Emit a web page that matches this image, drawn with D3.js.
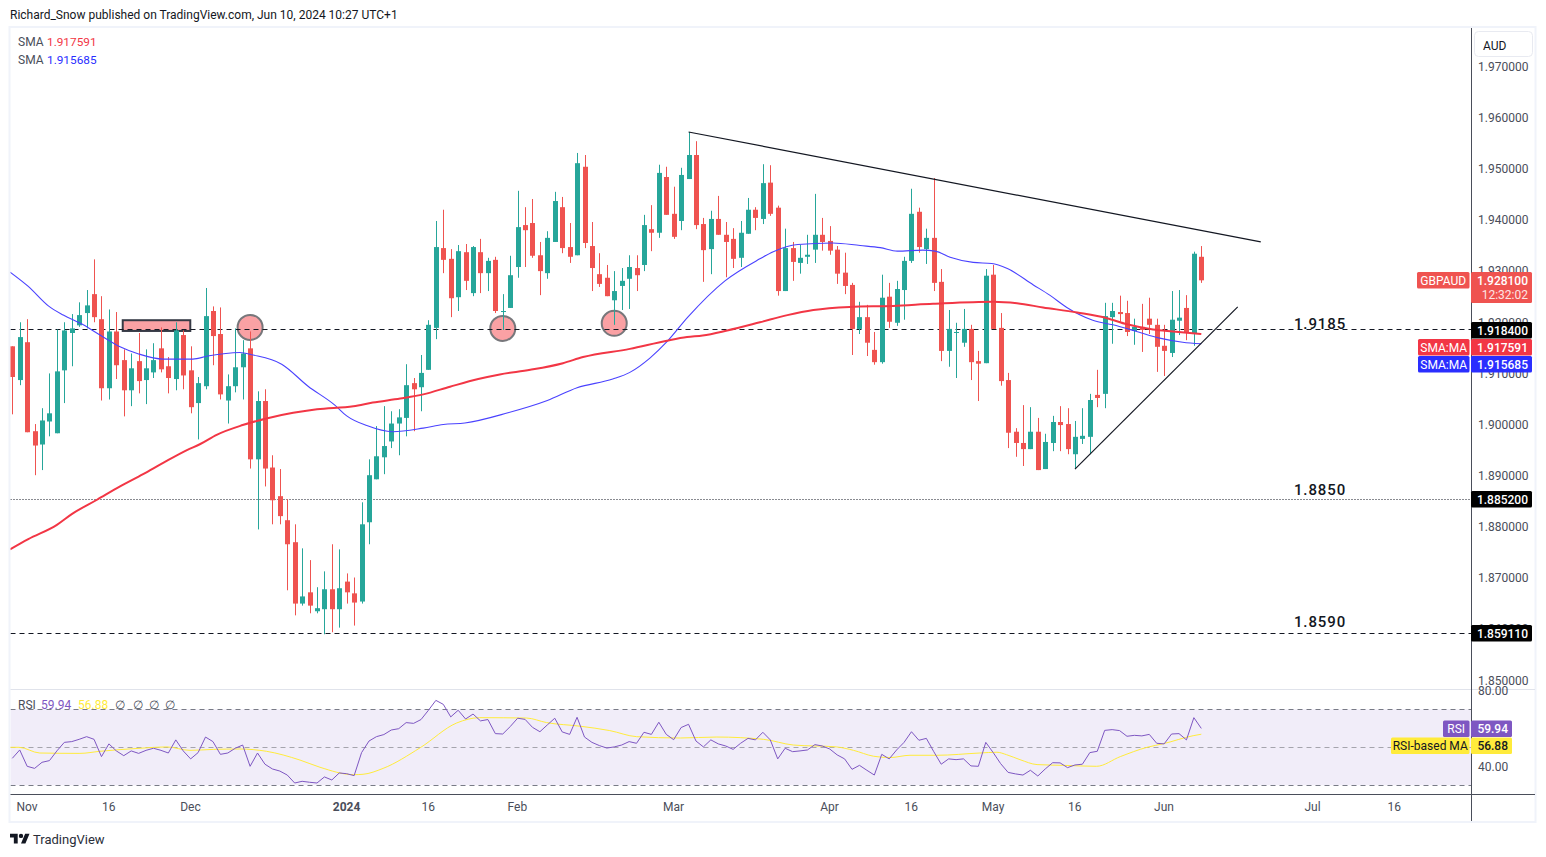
<!DOCTYPE html>
<html>
<head>
<meta charset="utf-8">
<script src="https://cdn.jsdelivr.net/npm/d3@7"></script>
<style>
  html, body { margin: 0; padding: 0; background: #fff; overflow: hidden; }
  text { font-family: Roboto, "Noto Sans", sans-serif; }
  .axis path, .axis line { display: none; }
  .axis text { font-size: 12px; fill: #4a4e5a; font-family: Roboto, "Noto Sans", sans-serif; }
</style>
</head>
<body>
<svg id="chart" width="1546" height="857"></svg>
<script>
// daily GBPAUD candles (index 0 = 30 Oct 2023)
var opens = [1.9152,1.9086,1.9160,1.8986,1.8960,1.9005,1.8982,1.9105,1.9178,1.9193,1.9217,1.9254,1.9205,1.9070,1.9181,1.9125,1.9066,1.9123,1.9086,1.9101,1.9148,1.9113,1.9088,1.9174,1.9105,1.9041,1.9074,1.9221,1.9176,1.9046,1.9074,1.9111,1.9148,1.8931,1.9045,1.8915,1.8859,1.8812,1.8769,1.8649,1.8671,1.8634,1.8638,1.8677,1.8638,1.8692,1.8669,1.8653,1.8808,1.8892,1.8935,1.8966,1.9001,
  1.9012,1.9080,1.9072,1.9106,1.9188,1.9344,1.9323,1.9248,1.9336,1.9256,1.9336,1.9295,1.9321,1.9219,1.9227,1.9307,1.9389,1.9393,1.9330,1.9295,1.9356,1.9424,1.9346,1.9330,1.9503,1.9348,1.9293,1.9286,1.9242,1.9270,1.9284,1.9305,1.9311,1.9381,1.9374,1.9483,1.9411,1.9397,1.9479,1.9526,1.9391,1.9342,1.9401,1.9370,1.9362,1.9325,1.9372,1.9419,1.9401,
  1.9472,1.9423,1.9260,1.9344,1.9315,1.9327,1.9341,1.9370,1.9358,1.9341,1.9296,1.9272,1.9186,1.9209,1.9145,1.9121,1.9249,1.9198,1.9262,1.9319,1.9415,1.9342,1.9364,1.9278,1.9143,1.9178,1.9159,1.9186,1.9123,1.9119,1.9292,1.9188,1.9086,1.8985,1.8963,1.8951,1.8985,1.8912,1.8963,1.9004,1.9000,1.8941,1.8971,1.8975,1.9057,1.9059,1.9209,1.9219,1.9217,1.9182,1.9190,1.9206,1.9194,1.9153,1.9139,1.9202,1.9227,1.9176,1.9327];
var highs = [1.9152,1.9199,1.9205,1.9000,1.9031,1.9099,1.9185,1.9199,1.9215,1.9238,1.9262,1.9322,1.9250,1.9224,1.9219,1.9146,1.9138,1.9178,1.9146,1.9158,1.9189,1.9131,1.9199,1.9183,1.9152,1.9092,1.9266,1.9230,1.9228,1.9097,1.9187,1.9164,1.9181,1.9064,1.9068,1.8939,1.8912,1.8853,1.8804,1.8757,1.8734,1.8681,1.8712,1.8765,1.8755,1.8708,1.8700,1.8847,1.8931,1.8996,1.9035,1.9025,1.9029,
  1.9117,1.9090,1.9135,1.9203,1.9397,1.9419,1.9342,1.9350,1.9352,1.9348,1.9362,1.9325,1.9327,1.9254,1.9329,1.9456,1.9424,1.9440,1.9356,1.9377,1.9454,1.9444,1.9393,1.9530,1.9526,1.9395,1.9334,1.9311,1.9299,1.9305,1.9330,1.9330,1.9409,1.9428,1.9507,1.9503,1.9464,1.9501,1.9571,1.9553,1.9403,1.9417,1.9446,1.9395,1.9383,1.9397,1.9442,1.9424,1.9508,
  1.9506,1.9427,1.9382,1.9356,1.9350,1.9370,1.9450,1.9403,1.9387,1.9348,1.9335,1.9276,1.9239,1.9233,1.9180,1.9292,1.9276,1.9280,1.9327,1.9460,1.9423,1.9382,1.9481,1.9303,1.9223,1.9198,1.9225,1.9194,1.9143,1.9303,1.9311,1.9217,1.9100,1.8992,1.9037,1.9033,1.9012,1.8981,1.9016,1.9035,1.9031,1.9006,1.9031,1.9059,1.9106,1.9237,1.9237,1.9251,1.9241,1.9206,1.9235,1.9247,1.9206,1.9194,1.9260,1.9262,1.9252,1.9337,1.9348];
var lows = [1.9019,1.9076,1.8984,1.8900,1.8910,1.8976,1.8982,1.9041,1.9113,1.9190,1.9187,1.9199,1.9046,1.9048,1.9088,1.9015,1.9035,1.9060,1.9039,1.9090,1.9101,1.9060,1.9066,1.9068,1.9021,1.8970,1.9068,1.9115,1.9048,1.9001,1.9062,1.9048,1.8913,1.8794,1.8878,1.8804,1.8804,1.8675,1.8626,1.8645,1.8630,1.8630,1.8589,1.8593,1.8602,1.8649,1.8606,1.8649,1.8765,1.8892,1.8902,1.8953,1.8939,
  1.8976,1.8986,1.9025,1.9106,1.9166,1.9295,1.9209,1.9221,1.9262,1.9250,1.9256,1.9260,1.9217,1.9184,1.9227,1.9286,1.9307,1.9325,1.9252,1.9284,1.9356,1.9334,1.9315,1.9330,1.9344,1.9260,1.9268,1.9250,1.9194,1.9223,1.9225,1.9260,1.9299,1.9338,1.9364,1.9409,1.9362,1.9379,1.9479,1.9381,1.9278,1.9293,1.9370,1.9287,1.9305,1.9307,1.9372,1.9379,1.9391,
  1.9407,1.9251,1.9260,1.9280,1.9294,1.9313,1.9315,1.9339,1.9331,1.9274,1.9254,1.9135,1.9176,1.9133,1.9116,1.9118,1.9188,1.9192,1.9204,1.9315,1.9335,1.9313,1.9260,1.9123,1.9112,1.9090,1.9151,1.9086,1.9045,1.9119,1.9186,1.9075,1.8953,1.8936,1.8918,1.8951,1.8910,1.8912,1.8947,1.8947,1.8941,1.8912,1.8961,1.8941,1.9033,1.9031,1.9157,1.9200,1.9172,1.9155,1.9141,1.9176,1.9102,1.9094,1.9131,1.9174,1.9164,1.9153,1.9276];
var closes = [1.9092,1.9170,1.8984,1.8958,1.9007,1.9021,1.9103,1.9183,1.9187,1.9213,1.9232,1.9209,1.9070,1.9181,1.9115,1.9066,1.9109,1.9084,1.9109,1.9125,1.9107,1.9090,1.9183,1.9095,1.9033,1.9080,1.9211,1.9172,1.9058,1.9074,1.9111,1.9138,1.8931,1.9045,1.8913,1.8851,1.8820,1.8765,1.8649,1.8663,1.8645,1.8640,1.8677,1.8638,1.8679,1.8671,1.8651,1.8804,1.8900,1.8937,1.8957,1.9001,1.9013,
  1.9076,1.9068,1.9100,1.9194,1.9346,1.9321,1.9246,1.9338,1.9280,1.9346,1.9295,1.9319,1.9221,1.9221,1.9291,1.9385,1.9379,1.9329,1.9299,1.9364,1.9436,1.9344,1.9327,1.9510,1.9354,1.9305,1.9274,1.9250,1.9260,1.9280,1.9307,1.9291,1.9389,1.9374,1.9491,1.9409,1.9366,1.9487,1.9526,1.9389,1.9340,1.9401,1.9370,1.9356,1.9323,1.9374,1.9419,1.9403,1.9471,
  1.9411,1.9260,1.9344,1.9317,1.9325,1.9331,1.9370,1.9356,1.9339,1.9294,1.9270,1.9186,1.9209,1.9159,1.9121,1.9247,1.9200,1.9264,1.9319,1.9411,1.9346,1.9364,1.9276,1.9143,1.9186,1.9180,1.9186,1.9121,1.9118,1.9290,1.9186,1.9084,1.8983,1.8963,1.8951,1.8985,1.8910,1.8965,1.9004,1.8998,1.8951,1.8975,1.8977,1.9047,1.9051,1.9211,1.9221,1.9215,1.9180,1.9190,1.9184,1.9194,1.9151,1.9143,1.9204,1.9208,1.9178,1.9333,1.9281];

// moving averages: [candle index, value] read where the curve is easy to read
var sma50 = [[-0.3,1.9297],[2.15,1.9269],[4.85,1.9231],[6.86,1.9213],[9.55,1.9194],[11.8,1.9174],[14.5,1.9151],[17,1.9137],[20.3,1.9127],[24.3,1.9127],[26.3,1.9133],[30.6,1.9140],[32.4,1.9135],[36.25,1.9117],[39.8,1.9074],[43.4,1.9037],[45,1.9016],[47.7,1.8997],[51.2,1.8985],[55.3,1.8992],[58,1.8999],[60.9,1.9002],[66.7,1.9022],[72,1.9046],[76,1.9071],[80.8,1.9088],[83.1,1.9101],[85.8,1.9129],[88.1,1.9161],[90.9,1.9209],[95.9,1.9280],[100.6,1.9323],[102.4,1.9337],[105.7,1.9351],[110.4,1.9354],[114.1,1.9349],[116.8,1.9345],[119.1,1.9338],[122.5,1.9340],[124.2,1.9338],[126.2,1.9326],[129.3,1.9316],[131.8,1.9314],[133.9,1.9304],[137.4,1.9272],[139.6,1.9252],[141.9,1.9228],[145.4,1.9203],[148.1,1.9194],[151.3,1.9181],[154.4,1.9168],[157.5,1.9160],[160,1.9157]];
var sma200 = [[-0.3,1.8755],[2.15,1.8775],[6,1.8803],[8,1.8824],[11.4,1.8852],[14.5,1.8878],[17.6,1.8902],[20.3,1.8924],[23.5,1.8949],[25.3,1.8961],[27.5,1.8979],[31,1.8998],[34.2,1.9011],[37.8,1.9022],[41,1.9029],[45.9,1.9035],[48.5,1.9042],[52.2,1.9050],[55.3,1.9058],[58.9,1.9073],[62.7,1.9088],[65.6,1.9097],[69.7,1.9106],[74.1,1.9119],[76.8,1.9131],[83.1,1.9147],[88.1,1.9163],[90.8,1.9170],[92.9,1.9173],[96.2,1.9183],[100.6,1.9199],[104.3,1.9213],[107.8,1.9223],[112.7,1.9229],[118.5,1.9231],[123.9,1.9235],[132,1.9239],[135.2,1.9236],[138.7,1.9228],[143.3,1.9218],[147.3,1.9207],[150,1.9195],[153.5,1.9185],[156.2,1.9181],[160,1.9176]];

// RSI, one value per candle
var rsiValues = [44.2,48.6,40,38.9,42.1,43,48.1,52.6,53,54.2,55.6,54.2,45.1,51.8,48.1,45.6,48.1,46.8,48.4,49.5,48.4,47,53.9,48.1,43.9,47.2,55.4,53,46.3,47,49.5,51.2,40,47,41.1,38.6,37.5,35.4,31.2,32.1,31.6,31.2,34.4,32.8,36.5,36.1,35.1,47.2,53.3,55.6,56.7,59.1,59.8,63,62.6,64.6,69.5,74.7,72.6,66,69.5,64.9,67.5,63.9,64.6,57.2,57,60.9,65.3,
  64.7,60.5,58.2,61.8,65.3,58.1,56.8,65.8,55.4,52.6,50.9,49.6,50.2,51.2,53,52.1,57.9,56.8,63.2,56.8,54,60.4,62.1,53.3,50.2,53.9,51.8,50.7,48.9,52.1,54.7,53.9,57.9,53.9,43.9,49.5,47.7,48.1,48.6,51.4,50.7,49.1,46,43.9,38.4,40.5,37.9,35.4,46.3,43.9,48.6,52.6,58.2,53.7,54.7,47.7,41.1,43.9,43.5,43.9,40.2,40,52.6,47.2,41.4,36.8,36,
  35.4,37.9,34.9,38.6,41.9,41.8,39.3,40.7,41.1,47.2,47.9,58.9,59.3,58.8,55.8,56.3,56,56.8,52.1,51.8,57,57.2,53.9,65.6,59.94];
var rsiMa = [[-0.3,50],[0.9,50],[3.7,47],[9.1,46.8],[11.8,47.9],[17.2,49.5],[20.8,50.2],[23.9,48.4],[27.1,48.9],[30.6,49.1],[34.2,47.9],[38.7,43.3],[41.4,39.5],[45.9,35.6],[47.2,35.8],[49.9,38.9],[54.9,49.8],[59.8,62.8],[62.9,65.6],[69.2,65.4],[71.9,63],[76.4,61.1],[80.4,58.8],[84,55.6],[89.9,54.9],[94.8,55.4],[101.1,54.2],[105.1,51.2],[110.9,50.2],[113.2,48.4],[115.9,45.3],[118.1,44.6],[120.8,45.8],[124.4,45.8],[130.2,47],[132.5,47.4],[133.8,46.1],[135.6,43.5],[137.9,40.9],[141.5,40.5],[145.9,40],[149.1,45.1],[152.7,50],[154.9,51.9],[158.9,56.1],[160,56.88]];

// axis ticks
var priceTicks = [1.97,1.96,1.95,1.94,1.93,1.92,1.91,1.90,1.89,1.88,1.87,1.86,1.85];
var rsiTicks = [80,40];
var timeTicks = [2,13,24,45,56,68,89,110,121,132,143,155,175,186];
var timeLabels = ["Nov","16","Dec","2024","16","Feb","Mar","Apr","16","May","16","Jun","Jul","16"];

// drawn on the chart by the author
var supportLevels = [1.9184,1.8852,1.8591];
var levelNames = ["1.9185","1.8850","1.8590"];
var levelLabelPrices = [1.9194,1.8869,1.8611];
var resistanceLine = [[91,1.9571],[168,1.9356]];
var risingLine = [[143,1.8912],[164.9,1.9229]];
var touchIndex = [32,66,81];
var touchPrice = [1.9189,1.9187,1.9197];
var zoneIndex = [14.86,23.95];
var zonePrice = [1.9203,1.9182];

var svg = d3.select("#chart");

//scales
var x = d3.scaleLinear().domain([0,160]).range([12.3,1201.3]);
var y = d3.scaleLinear().domain([1.97,1.85]).range([66,679.8]);
var yRsi = d3.scaleLinear().domain([70,30]).range([709.3,785.3]);

// frame
var plotLeft = 10.5, plotRight = 1471, plotTop = 28, plotBottom = 794, paneLine = 689.5;
svg.append("rect").attr("x",9.5).attr("y",27).attr("width",1526).attr("height",795)
  .attr("fill","#fff").attr("stroke","#f0f3fa").attr("stroke-width",2);

var defs = svg.append("defs");
defs.append("clipPath").attr("id","mainClip").append("rect")
  .attr("x",plotLeft).attr("y",plotTop).attr("width",plotRight-plotLeft).attr("height",paneLine-plotTop);
defs.append("clipPath").attr("id","rsiClip").append("rect")
  .attr("x",plotLeft).attr("y",paneLine).attr("width",plotRight-plotLeft).attr("height",plotBottom-paneLine);

var main = svg.append("g").attr("clip-path","url(#mainClip)");
var rsiPane = svg.append("g").attr("clip-path","url(#rsiClip)");

// pink markers sit under the candles
main.append("rect")
  .attr("x",x(zoneIndex[0])).attr("y",y(zonePrice[0]))
  .attr("width",x(zoneIndex[1])-x(zoneIndex[0])).attr("height",y(zonePrice[1])-y(zonePrice[0]))
  .attr("fill","#faa1a4").attr("stroke","#363a45").attr("stroke-width",2);
main.selectAll(".touch").data(touchIndex).enter().append("circle")
  .attr("class","touch")
  .attr("cx",function(d){return x(d)})
  .attr("cy",function(d,i){return y(touchPrice[i])})
  .attr("r",12.5)
  .attr("fill","#faa1a4").attr("stroke","#77777b").attr("stroke-width",2);

// horizontal levels
main.selectAll(".level").data(supportLevels).enter().append("line")
  .attr("class","level")
  .attr("x1",plotLeft).attr("x2",plotRight)
  .attr("y1",function(d){return Math.floor(y(d))+0.5})
  .attr("y2",function(d){return Math.floor(y(d))+0.5})
  .attr("stroke","#131722")
  .attr("stroke-dasharray",function(d,i){return i==1 ? "1,2" : "5,4"});

//candles
var candles = main.selectAll(".candle").data(opens).enter().append("g").attr("class","candle");
function candleColor(d,i){ return closes[i]>=opens[i] ? "#26a69a" : "#ef5350"; }
candles.append("line")
  .attr("x1",function(d,i){return Math.round(x(i))+0.5})
  .attr("x2",function(d,i){return Math.round(x(i))+0.5})
  .attr("y1",function(d,i){return y(highs[i])})
  .attr("y2",function(d,i){return y(lows[i])})
  .attr("stroke",candleColor);
candles.append("rect")
  .attr("x",function(d,i){return Math.round(x(i))-2})
  .attr("width",5)
  .attr("y",function(d,i){return y(Math.max(opens[i],closes[i]))})
  .attr("height",function(d,i){return Math.max(1,Math.abs(y(opens[i])-y(closes[i])))})
  .attr("fill",candleColor);

// moving averages
var pairLine = d3.line().x(function(d){return x(d[0])}).y(function(d){return y(d[1])}).curve(d3.curveMonotoneX);
main.append("path").attr("d",pairLine(sma50)).attr("fill","none").attr("stroke","#4a42ff").attr("stroke-width",1.1);
main.append("path").attr("d",pairLine(sma200)).attr("fill","none").attr("stroke","#f23645").attr("stroke-width",2);

// trend lines
[resistanceLine,risingLine].forEach(function(t){
  main.append("line")
    .attr("x1",x(t[0][0])).attr("y1",y(t[0][1]))
    .attr("x2",x(t[1][0])).attr("y2",y(t[1][1]))
    .attr("stroke","#131722").attr("stroke-width",1.2);
});

// level names
svg.selectAll(".levelName").data(levelNames).enter().append("text")
  .attr("class","levelName")
  .attr("x",1320)
  .attr("y",function(d,i){return y(levelLabelPrices[i])})
  .attr("text-anchor","middle").attr("dominant-baseline","middle")
  .attr("font-size",15).attr("font-weight",500).attr("letter-spacing",0.9)
  .attr("fill","#131722")
  .text(function(d){return d});

// RSI pane
rsiPane.append("rect")
  .attr("x",plotLeft).attr("width",plotRight-plotLeft)
  .attr("y",yRsi(70)).attr("height",yRsi(30)-yRsi(70))
  .attr("fill","#f1edf9");
rsiPane.selectAll(".band").data([70,50,30]).enter().append("line")
  .attr("class","band")
  .attr("x1",plotLeft).attr("x2",plotRight)
  .attr("y1",function(d){return Math.round(yRsi(d))+0.5})
  .attr("y2",function(d){return Math.round(yRsi(d))+0.5})
  .attr("stroke",function(d){return d==50 ? "#a5a4ad" : "#787b86"})
  .attr("stroke-dasharray","5,4");
var rsiLine = d3.line().x(function(d,i){return x(i)}).y(function(d){return yRsi(d)});
var maLine = d3.line().x(function(d){return x(d[0])}).y(function(d){return yRsi(d[1])}).curve(d3.curveMonotoneX);
rsiPane.append("path").attr("d",maLine(rsiMa)).attr("fill","none").attr("stroke","#ffeb3b").attr("stroke-width",1);
rsiPane.append("path").attr("d",rsiLine(rsiValues)).attr("fill","none").attr("stroke","#7e57c2").attr("stroke-width",1);

// pane + axis lines
svg.append("line").attr("x1",plotLeft).attr("x2",1535).attr("y1",paneLine).attr("y2",paneLine).attr("stroke","#e0e3eb");
svg.append("line").attr("x1",plotLeft).attr("x2",1535).attr("y1",794.5).attr("y2",794.5).attr("stroke","#4a4e5a");
svg.append("line").attr("x1",1471.5).attr("x2",1471.5).attr("y1",28).attr("y2",821).attr("stroke","#4a4e5a");

//axes
var priceAxis = d3.axisRight(y).tickValues(priceTicks).tickSize(0).tickPadding(0).tickFormat(d3.format(".6f"));
svg.append("g").attr("class","axis").attr("transform","translate(1478,0.5)").call(priceAxis);
var rsiAxis = d3.axisRight(yRsi).tickValues(rsiTicks).tickSize(0).tickPadding(0).tickFormat(d3.format(".2f"));
svg.append("g").attr("class","axis").attr("transform","translate(1478,0)").call(rsiAxis);
var timeAxis = d3.axisBottom(x).tickValues(timeTicks).tickSize(0).tickPadding(0)
  .tickFormat(function(d,i){return timeLabels[i]});
var timeG = svg.append("g").attr("class","axis").attr("transform","translate(-0.7,802.5)").call(timeAxis);
timeG.selectAll("text").attr("dy","0.71em")
  .attr("font-weight",function(d,i){return timeLabels[i]=="2024" ? 700 : null});

// currency button
svg.append("rect").attr("x",1474.5).attr("y",31.5).attr("width",58).attr("height",25).attr("rx",4)
  .attr("fill","#fff").attr("stroke","#e8eaf1");
svg.append("text").attr("x",1483).attr("y",49.5).attr("font-size",12).attr("fill","#131722").text("AUD");

// price tags on the axis
var tagLeft = 1471, tagRight = 1532;
function tag(top,h,color,value,name,nameLeft,textColor){
  svg.append("rect").attr("x",tagLeft).attr("y",top).attr("width",tagRight-tagLeft).attr("height",h).attr("rx",1.5).attr("fill",color);
  svg.append("text").attr("x",tagRight-4).attr("y",top+12.5).attr("text-anchor","end")
    .attr("font-size",12).attr("font-weight",500).attr("fill",textColor).text(value);
  if(name){
    svg.append("rect").attr("x",nameLeft).attr("y",top).attr("width",tagLeft-nameLeft-1.5).attr("height",16.5).attr("rx",1.5).attr("fill",color);
    svg.append("text").attr("x",(nameLeft+tagLeft-1.5)/2).attr("y",top+12.5).attr("text-anchor","middle")
      .attr("font-size",12).attr("fill",textColor).text(name);
  }
}
tag(272,31,"#ef5350","1.928100","GBPAUD",1417,"#fff");
svg.append("text").attr("x",tagRight-4).attr("y",299).attr("text-anchor","end").attr("font-size",12).attr("fill","#fde4e3").text("12:32:02");
tag(322,16.5,"#000","1.918400",null,0,"#fff");
tag(339,16.5,"#f23645","1.917591","SMA:MA",1418,"#fff");
tag(356,16.5,"#2a2eff","1.915685","SMA:MA",1418,"#fff");
tag(491,16.5,"#000","1.885200",null,0,"#fff");
tag(625,16.5,"#000","1.859110",null,0,"#fff");

// RSI tags are narrower
tagRight = 1512;
tag(720.5,16.5,"#7e57c2","59.94","RSI",1443,"#fff");
tag(737.5,16.5,"#ffeb3b","56.88","RSI-based MA",1391,"#131722");

// header + legends
svg.append("text").attr("x",10).attr("y",19).attr("font-size",12).attr("fill","#131722")
  .text("Richard_Snow published on TradingView.com, Jun 10, 2024 10:27 UTC+1");
svg.append("text").attr("x",18).attr("y",45.5).attr("font-size",12).attr("fill","#4a4e5a").text("SMA");
svg.append("text").attr("x",47).attr("y",45.5).attr("font-size",11.8).attr("fill","#f23645").text("1.917591");
svg.append("text").attr("x",18).attr("y",63.5).attr("font-size",12).attr("fill","#4a4e5a").text("SMA");
svg.append("text").attr("x",47).attr("y",63.5).attr("font-size",11.8).attr("fill","#2a2eff").text("1.915685");
svg.append("text").attr("x",18).attr("y",709).attr("font-size",12).attr("fill","#4a4e5a").text("RSI");
svg.append("text").attr("x",41).attr("y",709).attr("font-size",12).attr("fill","#7e57c2").text("59.94");
svg.append("text").attr("x",78).attr("y",709).attr("font-size",12).attr("fill","#ffeb3b").text("56.88");
[115,133,149,165].forEach(function(px){
  svg.append("text").attr("x",px).attr("y",709).attr("font-size",12).attr("fill","#4a4e5a").text("∅");
});

// TradingView mark
var logo = svg.append("g").attr("transform","translate(10,831.5) scale(0.55)").attr("fill","#131722");
logo.append("path").attr("d","M14 22H7V11H0V4h14v18zM28 22h-8l7.5-18h8L28 22z");
logo.append("circle").attr("cx",20).attr("cy",8).attr("r",4);
svg.append("text").attr("x",33).attr("y",844).attr("font-size",13).attr("fill","#2a2e39").text("TradingView");
</script>
</body>
</html>
